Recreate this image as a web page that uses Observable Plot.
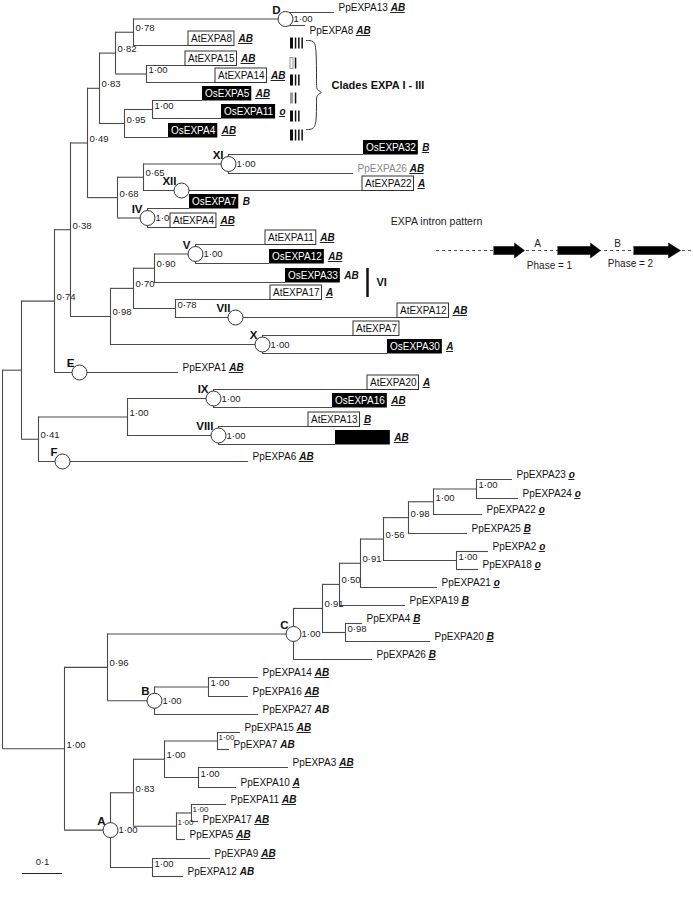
<!DOCTYPE html>
<html><head><meta charset="utf-8">
<script src="https://cdn.jsdelivr.net/npm/d3@7"></script>
<script src="https://cdn.jsdelivr.net/npm/@observablehq/plot@0.6"></script>
<style>body{margin:0;background:#fff}</style>
</head><body><div id="chart"></div>
<script>
// ---------- DATA ----------
// internal nodes: [id, parent, cumulative branch length from root, support, clade label]
const internals = [
  ["root", null, 0, "", ""],
  ["n1", "root", 0.0475, "", ""],
  ["n2", "n1", 0.13, "0·74", ""],
  ["n3", "n2", 0.17, "0·38", ""],
  ["n4", "n3", 0.2125, "0·49", ""],
  ["n6", "n4", 0.2425, "0·83", ""],
  ["n8", "n6", 0.2825, "0·82", ""],
  ["n78", "n8", 0.3275, "0·78", ""],
  ["D", "n78", 0.7075, "1·00", "D"],
  ["n36", "n8", 0.36, "1·00", ""],
  ["n9", "n6", 0.305, "0·95", ""],
  ["n10", "n9", 0.375, "1·00", ""],
  ["n7", "n4", 0.2875, "0·68", ""],
  ["n11", "n7", 0.3525, "0·65", ""],
  ["XI", "n11", 0.565, "1·00", "XI"],
  ["IV", "n7", 0.3625, "1·00", "IV"],
  ["n5", "n3", 0.27, "0·98", ""],
  ["n12", "n5", 0.3275, "0·70", ""],
  ["n13", "n12", 0.38, "0·90", ""],
  ["V", "n13", 0.4825, "1·00", "V"],
  ["n14", "n12", 0.4325, "0·78", ""],
  ["X", "n5", 0.65, "1·00", "X"],
  ["n15", "n1", 0.09, "0·41", ""],
  ["n16", "n15", 0.3125, "1·00", ""],
  ["IX", "n16", 0.5275, "1·00", "IX"],
  ["VIII", "n16", 0.54, "1·00", "VIII"],
  ["n17", "root", 0.155, "1·00", ""],
  ["n18", "n17", 0.2625, "0·96", ""],
  ["C", "n18", 0.7275, "1·00", "C"],
  ["n20", "C", 0.8, "0·91", ""],
  ["n22", "n20", 0.8425, "0·50", ""],
  ["n23", "n22", 0.895, "0·91", ""],
  ["n24", "n23", 0.9525, "0·56", ""],
  ["n25", "n24", 1.015, "0·98", ""],
  ["n27", "n25", 1.0775, "1·00", ""],
  ["n28", "n27", 1.185, "1·00", ""],
  ["n26", "n24", 1.135, "1·00", ""],
  ["n21", "n20", 0.8575, "0·98", ""],
  ["B", "n18", 0.38, "1·00", "B"],
  ["n19", "B", 0.515, "1·00", ""],
  ["A", "n17", 0.27, "1·00", "A"],
  ["n29", "A", 0.3275, "0·83", ""],
  ["n31", "n29", 0.405, "1·00", ""],
  ["n33", "n31", 0.5375, "1·00", ""],
  ["n34", "n31", 0.49, "1·00", ""],
  ["n32", "n29", 0.435, "1·00", ""],
  ["n35", "n32", 0.4725, "1·00", ""],
  ["n30", "A", 0.375, "1·00", ""]
];
// leaves: [name, parent, cumulative branch length, row, intron tag, tag underlined]
const leaves = [
  ["PpEXPA13", "D", 0.83, 12, "AB", 1],
  ["PpEXPA8", "D", 0.7575, 25, "AB", 1],
  ["AtEXPA8", "n78", 0.465, 45, "AB", 1],
  ["AtEXPA15", "n36", 0.4575, 65, "AB", 1],
  ["AtEXPA14", "n36", 0.5325, 82, "AB", 1],
  ["OsEXPA5", "n10", 0.5, 100, "AB", 1],
  ["OsEXPA11", "n10", 0.5475, 118, "o", 1],
  ["OsEXPA4", "n9", 0.415, 137, "AB", 1],
  ["OsEXPA32", "XI", 0.9025, 154, "B", 1],
  ["PpEXPA26", "XI", 0.8775, 173, "AB", 1],
  ["AtEXPA22", "n11", 0.9, 190, "A", 1],
  ["OsEXPA7", "IV", 0.4675, 208, "B", 0],
  ["AtEXPA4", "IV", 0.42, 227, "AB", 1],
  ["AtEXPA11", "V", 0.6575, 244, "AB", 1],
  ["OsEXPA12", "V", 0.6675, 263, "AB", 1],
  ["OsEXPA33", "n13", 0.7075, 282, "AB", 0],
  ["AtEXPA17", "n14", 0.67, 299, "A", 1],
  ["AtEXPA12", "n14", 0.9875, 317, "AB", 1],
  ["AtEXPA7", "X", 0.8775, 335, "", 0],
  ["OsEXPA30", "X", 0.9625, 353, "A", 1],
  ["PpEXPA1", "n2", 0.44, 372, "AB", 1],
  ["AtEXPA20", "IX", 0.9125, 389, "A", 1],
  ["OsEXPA16", "IX", 0.825, 407, "AB", 1],
  ["AtEXPA13", "VIII", 0.765, 426, "B", 1],
  ["", "VIII", 0.8325, 444, "AB", 1],
  ["PpEXPA6", "n15", 0.615, 461, "AB", 1],
  ["PpEXPA23", "n28", 1.275, 479, "o", 1],
  ["PpEXPA24", "n28", 1.29, 498, "o", 1],
  ["PpEXPA22", "n27", 1.2, 514, "o", 1],
  ["PpEXPA25", "n25", 1.1625, 533, "B", 1],
  ["PpEXPA2", "n26", 1.215, 551, "o", 1],
  ["PpEXPA18", "n26", 1.19, 569, "o", 1],
  ["PpEXPA21", "n23", 1.0875, 587, "o", 1],
  ["PpEXPA19", "n22", 1.0075, 605, "B", 1],
  ["PpEXPA4", "n21", 0.9, 623, "B", 1],
  ["PpEXPA20", "n21", 1.07, 641, "B", 1],
  ["PpEXPA26", "C", 0.925, 659, "B", 1],
  ["PpEXPA14", "n19", 0.64, 677, "AB", 1],
  ["PpEXPA16", "n19", 0.615, 696, "AB", 1],
  ["PpEXPA27", "B", 0.64, 714, "AB", 0],
  ["PpEXPA15", "n33", 0.595, 732, "AB", 1],
  ["PpEXPA7", "n33", 0.5675, 749, "AB", 0],
  ["PpEXPA3", "n34", 0.715, 767, "AB", 1],
  ["PpEXPA10", "n34", 0.585, 787, "A", 1],
  ["PpEXPA11", "n35", 0.56, 804, "AB", 1],
  ["PpEXPA17", "n35", 0.49, 821, "AB", 1],
  ["PpEXPA5", "n32", 0.4575, 839, "AB", 1],
  ["PpEXPA9", "n30", 0.52, 858, "AB", 1],
  ["PpEXPA12", "n30", 0.4525, 876, "AB", 0]
];
// clade circles on terminal branches: [label, leaf, branch length position]
const branchCircles = [["E", "PpEXPA1", 0.1925], ["F", "PpEXPA6", 0.15], ["XII", "AtEXPA22", 0.4475], ["VII", "AtEXPA12", 0.5825]];
// intron bar glyphs of clades EXPA I–III (T thick, t thin, H hollow, G grey)
const intronBars = [["AtEXPA8", "Tttt"], ["AtEXPA15", "Ht"], ["AtEXPA14", "Ttt"], ["OsEXPA5", "Gt"], ["OsEXPA11", "Ttt"], ["OsEXPA4", "Tttt"]];
const fadedLeaves = ["PpEXPA26@XI"];
const labelsBelowBranch = ["PpEXPA8"];
const labelsNearBranch = ["PpEXPA17"];
const smallSupportNodes = ["n33", "n32", "n35"];
const scaleBarLength = 0.1;

// ---------- BUILD ----------
const X_DOMAIN = [-0.005, 1.7275];
const W = 693, H = 900;
const PXU = W / (X_DOMAIN[1] - X_DOMAIN[0]);
const ux = px => X_DOMAIN[0] + px / PXU;
const FONT = "'Liberation Sans', Arial, Helvetica, sans-serif";
const ctx = document.createElement("canvas").getContext("2d");
const measure = (s, f) => { ctx.font = f; return ctx.measureText(s).width; };

const nodes = new Map();
internals.forEach(([id, parent, depth, support, clade]) => nodes.set(id, {id, parent, depth, support, clade, children: [], leaf: false, small: smallSupportNodes.includes(id)}));
leaves.forEach(([name, parent, depth, row, tag, ul], i) => nodes.set("L" + i, {
  id: "L" + i, name, parent, depth, row, tag, ul: !!ul, children: [], leaf: true,
  kind: name === "" ? "Os" : name.slice(0, 2), faded: fadedLeaves.includes(name + "@" + parent)
}));
for (const n of nodes.values()) if (n.parent) nodes.get(n.parent).children.push(n);
function yOf(n) {
  if (n.y != null) return n.y;
  if (n.leaf) return (n.y = n.row);
  const ys = n.children.map(yOf);
  return (n.y = (d3.min(ys) + d3.max(ys)) / 2);
}
nodes.forEach(yOf);
const all = [...nodes.values()];
const leafNodes = all.filter(n => n.leaf);
const innerNodes = all.filter(n => !n.leaf);
const hEdges = all.filter(n => n.parent).map(n => ({y: n.y, x1: nodes.get(n.parent).depth, x2: n.depth}));
const vEdges = innerNodes.filter(n => n.children.length).map(n => ({x: n.depth, y1: d3.min(n.children, c => c.y), y2: d3.max(n.children, c => c.y)}));

const LABEL_FONT = `10px ${FONT}`;
const TAG_FONT = `italic bold 10px ${FONT}`;
leafNodes.forEach(n => {
  const w = measure(n.name || "OsEXPA16", LABEL_FONT);
  const tw = n.tag ? measure(n.tag, TAG_FONT) : 0;
  if (n.kind === "Pp") {
    n.tx = n.depth + 4 / PXU;
    n.ty = labelsBelowBranch.includes(n.name) ? n.y + 5 : labelsNearBranch.includes(n.name) ? n.y - 2 : n.y - 5;
    n.tagX = n.depth + (4 + w + 3) / PXU;
  } else {
    n.bx1 = n.depth; n.bx2 = n.depth + (w + 5) / PXU;
    n.by1 = n.y - 14; n.by2 = n.y + 0.5;
    n.tx = (n.bx1 + n.bx2) / 2; n.ty = n.y - 7;
    n.tagX = n.bx2 + 4 / PXU;
  }
  n.tagY = n.ty; n.tagX2 = n.tagX + tw / PXU;
});
const byName = name => leafNodes.find(n => n.name === name);
const circleNodes = innerNodes.filter(n => n.clade);
const branchCircleData = branchCircles.map(([label, leaf, depth]) => ({clade: label, depth, y: byName(leaf).y}));
const cladeMarks = [...circleNodes.map(n => ({clade: n.clade, depth: n.depth, y: n.y})), ...branchCircleData];

// intron bar glyphs
const bars = [];
intronBars.forEach(([leaf, pat]) => {
  const y = byName(leaf).y - 2;
  let px = 290;
  for (const c of pat) {
    const w = c === "t" ? 1.5 : 3;
    bars.push({type: c, x1: ux(px), x2: ux(px + w), y1: y - 5.5, y2: y + 5.5});
    px += w + 1.8;
  }
});

// brace
const bracePx = [[306,40],[313,40],[316,46],[316,84],[316,90],[323,92],[316,94],[316,100],[316,122],[313,129],[306,129]];
const brace = bracePx.map(([x, y]) => ({x: ux(x), y}));
// intron legend block arrows
const arrowPx = [[493,514,524],[557,590,600],[633,668,680]];
const arrows = arrowPx.flatMap(([a, h, t], id) => [[a,246],[h,246],[h,242.5],[t,250],[h,257.5],[h,254],[a,254]].map(([x, y]) => ({id, x: ux(x), y})));
const notes = [
  {x: ux(436), y: 221, t: "EXPA intron pattern", a: "start", s: 10.5},
  {x: ux(537), y: 243, t: "A", a: "middle", s: 10},
  {x: ux(617), y: 243, t: "B", a: "middle", s: 10},
  {x: ux(549), y: 265, t: "Phase = 1", a: "middle", s: 10},
  {x: ux(630), y: 263, t: "Phase = 2", a: "middle", s: 10}
];

const stroke = "#4a4a4a";
const chart = Plot.plot({
  width: W, height: H, margin: 0,
  style: {fontFamily: FONT, fontSize: "10px", background: "#fff", color: "#111"},
  x: {domain: X_DOMAIN, range: [0, W], axis: null},
  y: {domain: [0, H], range: [0, H], axis: null},
  marks: [
    Plot.ruleY(hEdges, {y: "y", x1: "x1", x2: "x2", stroke, strokeWidth: 1.1}),
    Plot.ruleX(vEdges, {x: "x", y1: "y1", y2: "y2", stroke, strokeWidth: 1.1}),
    Plot.dot(cladeMarks, {x: "depth", y: "y", r: 7.5, fill: "white", stroke: "#333", strokeWidth: 1}),
    Plot.text(cladeMarks, {x: "depth", y: "y", text: "clade", dx: -5, dy: -9, textAnchor: "end", fontWeight: "bold", fontSize: 11.5, fill: "#111"}),
    Plot.text(innerNodes.filter(n => n.support && !n.clade && !n.small), {x: "depth", y: "y", text: "support", dx: 2, dy: -4, textAnchor: "start", fontSize: 9.5, fill: "#222"}),
    Plot.text(innerNodes.filter(n => n.support && n.small), {x: "depth", y: "y", text: "support", dx: 1, dy: -4, textAnchor: "start", fontSize: 8, fill: "#222"}),
    Plot.text(circleNodes, {x: "depth", y: "y", text: "support", dx: 8, dy: 0, textAnchor: "start", fontSize: 9.5, fill: "#222"}),
    // boxed At / Os labels
    Plot.rect(leafNodes.filter(n => n.kind === "At"), {x1: "bx1", x2: "bx2", y1: "by1", y2: "by2", fill: "white", stroke: "#333", strokeWidth: 1}),
    Plot.rect(leafNodes.filter(n => n.kind === "Os"), {x1: "bx1", x2: "bx2", y1: "by1", y2: "by2", fill: "black"}),
    Plot.text(leafNodes.filter(n => n.kind === "At"), {x: "tx", y: "ty", text: "name", fontSize: 10, fill: "#111"}),
    Plot.text(leafNodes.filter(n => n.kind === "Os"), {x: "tx", y: "ty", text: "name", fontSize: 10, fill: "white"}),
    Plot.text(leafNodes.filter(n => n.kind === "Pp" && !n.faded), {x: "tx", y: "ty", text: "name", textAnchor: "start", fontSize: 10, fill: "#111"}),
    Plot.text(leafNodes.filter(n => n.kind === "Pp" && n.faded), {x: "tx", y: "ty", text: "name", textAnchor: "start", fontSize: 10, fill: "#888"}),
    // intron tags
    Plot.text(leafNodes.filter(n => n.tag), {x: "tagX", y: "tagY", text: "tag", textAnchor: "start", fontSize: 10, fontWeight: "bold", fontStyle: "italic", fill: "#111"}),
    Plot.ruleY(leafNodes.filter(n => n.tag && n.ul), {y: d => d.tagY + 5, x1: "tagX", x2: "tagX2", stroke: "#222", strokeWidth: 1}),
    // clades EXPA I–III
    Plot.rect(bars.filter(b => b.type === "T" || b.type === "t"), {x1: "x1", x2: "x2", y1: "y1", y2: "y2", fill: "#111"}),
    Plot.rect(bars.filter(b => b.type === "G"), {x1: "x1", x2: "x2", y1: "y1", y2: "y2", fill: "#999"}),
    Plot.rect(bars.filter(b => b.type === "H"), {x1: "x1", x2: "x2", y1: "y1", y2: "y2", fill: "white", stroke: "#777", strokeWidth: 0.8}),
    Plot.line(brace, {x: "x", y: "y", curve: "basis", stroke: "#333", strokeWidth: 1}),
    Plot.text([{x: ux(331), y: 85, t: "Clades EXPA I - III"}], {x: "x", y: "y", text: "t", textAnchor: "start", fontWeight: "bold", fontSize: 11, fill: "#111"}),
    // clade VI bar
    Plot.ruleX([{x: ux(367)}], {x: "x", y1: 268, y2: 297, stroke: "#111", strokeWidth: 2.5}),
    Plot.text([{x: ux(376), y: 282, t: "VI"}], {x: "x", y: "y", text: "t", textAnchor: "start", fontWeight: "bold", fontSize: 11, fill: "#111"}),
    // intron legend
    Plot.ruleY([{y: 250}], {y: "y", x1: ux(436), x2: ux(693), stroke: "#555", strokeDasharray: "3,3", strokeWidth: 1}),
    Plot.line(arrows, {x: "x", y: "y", z: "id", fill: "#000", stroke: "#000", strokeWidth: 0.5}),
    Plot.text(notes, {x: "x", y: "y", text: "t", textAnchor: d => d.a, fontSize: d => d.s, fill: "#222"}),
    // scale bar
    Plot.ruleY([{y: 873}], {y: "y", x1: 0.05, x2: 0.05 + scaleBarLength, stroke: "#222", strokeWidth: 1}),
    Plot.text([{x: 0.05 + scaleBarLength / 2, y: 861, t: "0·1"}], {x: "x", y: "y", text: "t", fontSize: 9.5, fill: "#222"})
  ]
});
document.getElementById("chart").appendChild(chart);
</script>
</body></html>
